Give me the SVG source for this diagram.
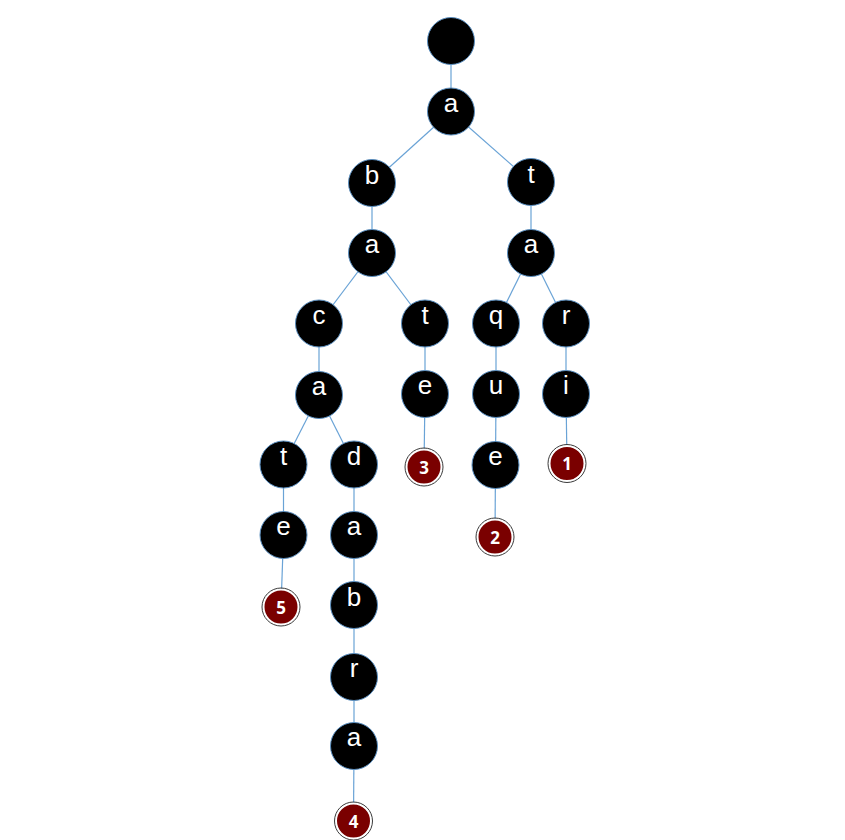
<svg xmlns="http://www.w3.org/2000/svg" width="845" height="840" viewBox="0 0 845 840">
<style>
.n{fill:#000;stroke:#5b8fc0;stroke-width:1}
.t{font-family:"Liberation Sans",Arial,sans-serif;font-size:26px;fill:#fff;text-anchor:middle}
.lf{fill:#7a0000;stroke:#fff;stroke-width:2}
.lo{fill:none;stroke:#3a3a3a;stroke-width:1}
.lt{font-family:"Open Sans","DejaVu Sans",sans-serif;font-weight:bold;font-size:17px;fill:#fff;text-anchor:middle}
#edges line{stroke:#6aa3d6;stroke-width:1.2}
</style>
<rect width="845" height="840" fill="#fff"/>
<g id="edges">
<line x1="451" y1="41" x2="451" y2="111.5"/>
<line x1="451" y1="111.5" x2="372" y2="183"/>
<line x1="451" y1="111.5" x2="531" y2="182"/>
<line x1="372" y1="183" x2="372" y2="253"/>
<line x1="531" y1="182" x2="531" y2="253"/>
<line x1="372" y1="253" x2="319" y2="323.5"/>
<line x1="372" y1="253" x2="425" y2="323.5"/>
<line x1="531" y1="253" x2="496" y2="323.5"/>
<line x1="531" y1="253" x2="566" y2="323.5"/>
<line x1="319" y1="323.5" x2="319" y2="395"/>
<line x1="425" y1="323.5" x2="425" y2="394"/>
<line x1="496" y1="323.5" x2="496" y2="394"/>
<line x1="566" y1="323.5" x2="566" y2="394"/>
<line x1="319" y1="395" x2="283.5" y2="464.5"/>
<line x1="319" y1="395" x2="354" y2="464.5"/>
<line x1="425" y1="394" x2="424" y2="467"/>
<line x1="496" y1="394" x2="495.5" y2="465"/>
<line x1="566" y1="394" x2="567" y2="463.5"/>
<line x1="283.5" y1="464.5" x2="283.5" y2="535"/>
<line x1="354" y1="464.5" x2="354" y2="535"/>
<line x1="495.5" y1="465" x2="495" y2="537"/>
<line x1="283.5" y1="535" x2="281" y2="607"/>
<line x1="354" y1="535" x2="354" y2="605"/>
<line x1="354" y1="605" x2="354" y2="677"/>
<line x1="354" y1="677" x2="354" y2="746"/>
<line x1="354" y1="746" x2="353.5" y2="821"/>
</g>
<g id="root"><circle class="n" cx="451" cy="41" r="23.5"/></g>
<g id="n_a1"><circle class="n" cx="451" cy="111.5" r="23.5"/><text class="t" x="451" y="112">a</text></g>
<g id="n_b"><circle class="n" cx="372" cy="183" r="23.5"/><text class="t" x="372" y="184">b</text></g>
<g id="n_t1"><circle class="n" cx="531" cy="182" r="23.5"/><text class="t" x="531" y="183">t</text></g>
<g id="n_a2"><circle class="n" cx="372" cy="253" r="23.5"/><text class="t" x="372" y="253">a</text></g>
<g id="n_a3"><circle class="n" cx="531" cy="253" r="23.5"/><text class="t" x="531" y="253">a</text></g>
<g id="n_c"><circle class="n" cx="319" cy="323.5" r="23.5"/><text class="t" x="319" y="324">c</text></g>
<g id="n_t2"><circle class="n" cx="425" cy="323.5" r="23.5"/><text class="t" x="425" y="324">t</text></g>
<g id="n_q"><circle class="n" cx="496" cy="323.5" r="23.5"/><text class="t" x="496" y="324">q</text></g>
<g id="n_r1"><circle class="n" cx="566" cy="323.5" r="23.5"/><text class="t" x="566" y="324">r</text></g>
<g id="n_a4"><circle class="n" cx="319" cy="395" r="23.5"/><text class="t" x="319" y="395">a</text></g>
<g id="n_e1"><circle class="n" cx="425" cy="394" r="23.5"/><text class="t" x="425" y="394">e</text></g>
<g id="n_u"><circle class="n" cx="496" cy="394" r="23.5"/><text class="t" x="496" y="394">u</text></g>
<g id="n_i"><circle class="n" cx="566" cy="394" r="23.5"/><text class="t" x="566" y="394">i</text></g>
<g id="n_t3"><circle class="n" cx="283.5" cy="464.5" r="23.5"/><text class="t" x="283.5" y="465">t</text></g>
<g id="n_d"><circle class="n" cx="354" cy="464.5" r="23.5"/><text class="t" x="354" y="465">d</text></g>
<g id="leaf3"><circle class="lf" cx="424" cy="467" r="17.5"/><circle class="lo" cx="424" cy="467" r="19"/><text class="lt" x="424" y="473.5">3</text></g>
<g id="n_e2"><circle class="n" cx="495.5" cy="465" r="23.5"/><text class="t" x="495.5" y="465">e</text></g>
<g id="leaf1"><circle class="lf" cx="567" cy="463.5" r="17.5"/><circle class="lo" cx="567" cy="463.5" r="19"/><text class="lt" x="567" y="470">1</text></g>
<g id="n_e3"><circle class="n" cx="283.5" cy="535" r="23.5"/><text class="t" x="283.5" y="535">e</text></g>
<g id="n_a5"><circle class="n" cx="354" cy="535" r="23.5"/><text class="t" x="354" y="535">a</text></g>
<g id="leaf2"><circle class="lf" cx="495" cy="537" r="17.5"/><circle class="lo" cx="495" cy="537" r="19"/><text class="lt" x="495" y="543.5">2</text></g>
<g id="leaf5"><circle class="lf" cx="281" cy="607" r="17.5"/><circle class="lo" cx="281" cy="607" r="19"/><text class="lt" x="281" y="613.5">5</text></g>
<g id="n_b2"><circle class="n" cx="354" cy="605" r="23.5"/><text class="t" x="354" y="606">b</text></g>
<g id="n_r2"><circle class="n" cx="354" cy="677" r="23.5"/><text class="t" x="354" y="677">r</text></g>
<g id="n_a6"><circle class="n" cx="354" cy="746" r="23.5"/><text class="t" x="354" y="746">a</text></g>
<g id="leaf4"><circle class="lf" cx="353.5" cy="821" r="17.5"/><circle class="lo" cx="353.5" cy="821" r="19"/><text class="lt" x="353.5" y="827.5">4</text></g>
</svg>
